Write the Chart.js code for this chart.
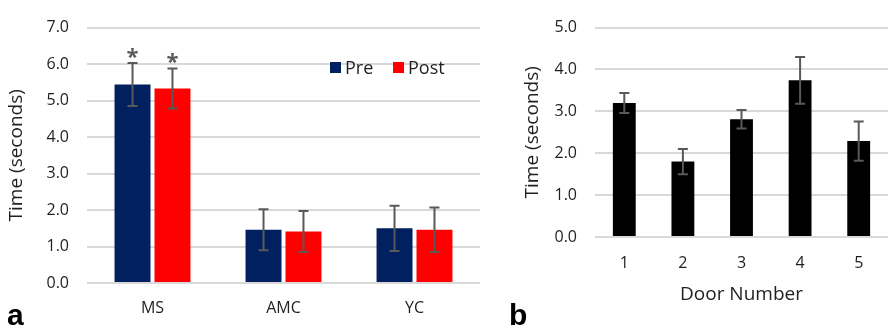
<!DOCTYPE html>
<html>
<head>
<meta charset="utf-8">
<script src="https://cdn.jsdelivr.net/npm/chart.js@4.4.0/dist/chart.umd.min.js"></script>
<style>
  html, body { margin: 0; padding: 0; background: #fff; }
  body { width: 888px; height: 329px; position: relative; overflow: hidden; }
  #wrapA { position: absolute; left: 0; top: 0; width: 480px; height: 329px; }
  #wrapB { position: absolute; left: 480px; top: 0; width: 408px; height: 329px; }
  .panel { position: absolute; font-family: "Liberation Sans", Arial, sans-serif; font-weight: bold; font-size: 30px; line-height: 30px; color: #000; }
</style>
</head>
<body>
<div id="wrapA"><canvas id="chartA" width="480" height="329"></canvas></div>
<div id="wrapB"><canvas id="chartB" width="408" height="329"></canvas></div>
<div class="panel" style="left:7px; top:300px;">a</div>
<div class="panel" style="left:509px; top:300px;">b</div>
<script>
// panel a: group means and error bars
const groups = ['MS', 'AMC', 'YC'];
const preTime = [5.44, 1.46, 1.50];
const preErr = [0.59, 0.56, 0.62];
const postTime = [5.33, 1.41, 1.46];
const postErr = [0.55, 0.56, 0.61];
const preMarks = ['*', '', ''];
const postMarks = ['*', '', ''];

// panel b: door means and error bars
const doors = ['1', '2', '3', '4', '5'];
const doorTime = [3.20, 1.80, 2.81, 3.74, 2.29];
const doorErr = [0.24, 0.30, 0.22, 0.56, 0.47];

const FONT = '"Open Sans", "Noto Sans", sans-serif';
const TEXT = '#1f1f1f';
const GRID = '#d9d9d9';
const ERR = '#595959';

const errorBars = {
    id: 'errorBars',
    afterDatasetsDraw(chart) {
        const ctx = chart.ctx;
        const y = chart.scales.y;
        ctx.save();
        chart.data.datasets.forEach((ds, i) => {
            const meta = chart.getDatasetMeta(i);
            meta.data.forEach((bar, j) => {
                const v = ds.data[j], e = ds.errors[j];
                const top = y.getPixelForValue(v + e);
                const bot = y.getPixelForValue(v - e);
                ctx.strokeStyle = ERR;
                ctx.lineWidth = 2;
                ctx.beginPath();
                ctx.moveTo(bar.x, top); ctx.lineTo(bar.x, bot);
                ctx.moveTo(bar.x - 5, top); ctx.lineTo(bar.x + 5, top);
                ctx.moveTo(bar.x - 5, bot); ctx.lineTo(bar.x + 5, bot);
                ctx.stroke();
                if (ds.marks && ds.marks[j]) {
                    ctx.fillStyle = ERR;
                    ctx.font = 'bold 22px ' + FONT;
                    ctx.textAlign = 'center';
                    ctx.textBaseline = 'alphabetic';
                    ctx.fillText(ds.marks[j], bar.x, top + 1);
                }
            });
        });
        ctx.restore();
    }
};

// legend drawn inside the plot, like the original
const innerLegend = {
    id: 'innerLegend',
    afterDraw(chart) {
        const ctx = chart.ctx;
        const xs = [330, 393];
        ctx.save();
        ctx.font = '18px ' + FONT;
        ctx.textBaseline = 'alphabetic';
        ctx.textAlign = 'left';
        chart.data.datasets.forEach((ds, i) => {
            ctx.fillStyle = ds.backgroundColor;
            ctx.fillRect(xs[i], 62, 11, 11);
            ctx.fillStyle = TEXT;
            ctx.fillText(ds.label, xs[i] + 15, 74);
        });
        ctx.restore();
    }
};

const tickFmt = v => Number(v).toFixed(1);

new Chart(document.getElementById('chartA'), {
    type: 'bar',
    data: {
        labels: groups,
        datasets: [
            { label: 'Pre', data: preTime, errors: preErr, marks: preMarks, backgroundColor: '#002060' },
            { label: 'Post', data: postTime, errors: postErr, marks: postMarks, backgroundColor: '#ff0000' }
        ]
    },
    options: {
        responsive: false,
        animation: false,
        layout: { padding: { top: 17, left: 0, right: 0, bottom: 0 } },
        categoryPercentage: 0.61,
        barPercentage: 0.9,
        plugins: { legend: { display: false }, tooltip: { enabled: false } },
        scales: {
            x: {
                grid: { display: false },
                border: { display: false },
                ticks: { color: TEXT, font: { family: FONT, size: 16 }, padding: 8 },
                afterFit(s) { s.height = 46; }
            },
            y: {
                min: 0, max: 7,
                grid: { color: GRID, lineWidth: 2, drawTicks: false },
                border: { display: false },
                ticks: { stepSize: 1, callback: tickFmt, color: TEXT, font: { family: FONT, size: 16 }, padding: 18 },
                title: { display: true, text: 'Time (seconds)', color: TEXT, font: { family: FONT, size: 19 }, padding: { top: 5, bottom: 0 } },
                afterFit(s) { s.width = 87; }
            }
        }
    },
    plugins: [errorBars, innerLegend]
});

new Chart(document.getElementById('chartB'), {
    type: 'bar',
    data: {
        labels: doors,
        datasets: [
            { label: 'Time', data: doorTime, errors: doorErr, backgroundColor: '#000000' }
        ]
    },
    options: {
        responsive: false,
        animation: false,
        layout: { padding: { top: 13, left: 0, right: 0, bottom: 0 } },
        categoryPercentage: 0.78,
        barPercentage: 0.5,
        plugins: { legend: { display: false }, tooltip: { enabled: false } },
        scales: {
            x: {
                grid: { display: false },
                border: { display: false },
                ticks: { color: TEXT, font: { family: FONT, size: 16 }, padding: 9 },
                title: { display: true, text: 'Door Number', color: TEXT, font: { family: FONT, size: 19 }, padding: { top: 0, bottom: 23 } },
                afterFit(s) { s.height = 92; }
            },
            y: {
                min: 0, max: 5,
                grid: { color: GRID, lineWidth: 2, drawTicks: false },
                border: { display: false },
                ticks: { stepSize: 1, callback: tickFmt, color: TEXT, font: { family: FONT, size: 16 }, padding: 18 },
                title: { display: true, text: 'Time (seconds)', color: TEXT, font: { family: FONT, size: 19 }, padding: { top: 41, bottom: 0 } },
                afterFit(s) { s.width = 115; }
            }
        }
    },
    plugins: [errorBars]
});
</script>
</body>
</html>
